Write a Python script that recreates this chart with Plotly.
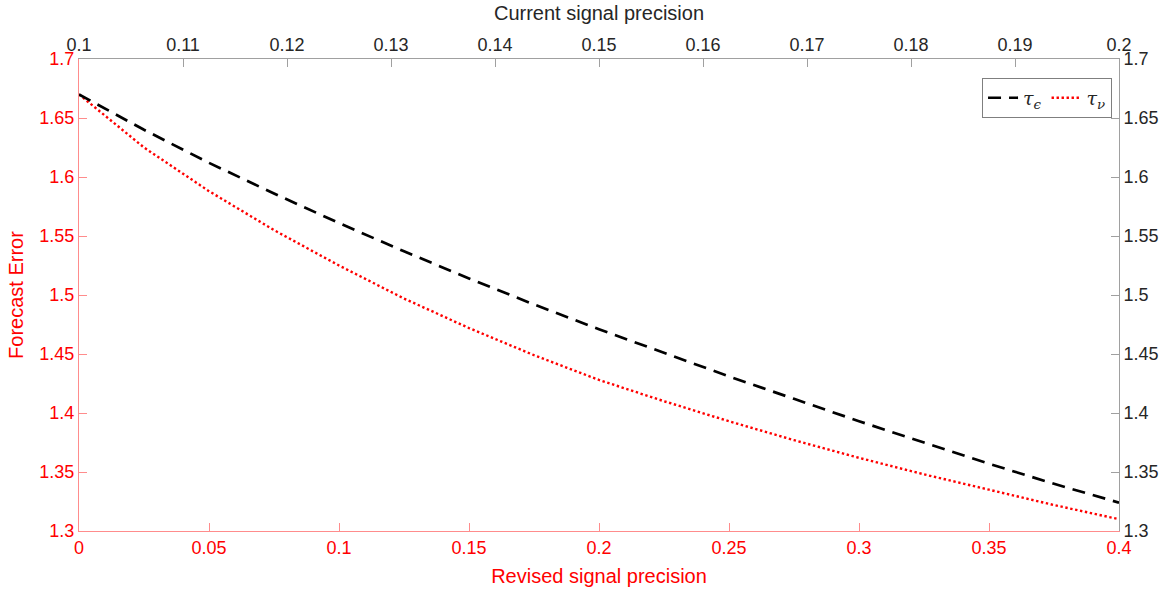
import plotly.graph_objects as go

# Revised signal precision (bottom axis) and forecast error for tau_nu
revised_precision = [0.0, 0.025, 0.05, 0.075, 0.1, 0.125, 0.15, 0.175, 0.2,
                     0.225, 0.25, 0.275, 0.3, 0.325, 0.35, 0.375, 0.4]
error_tau_nu = [1.670, 1.625, 1.588, 1.555, 1.525, 1.497, 1.472, 1.449, 1.428,
                1.410, 1.393, 1.377, 1.362, 1.348, 1.335, 1.322, 1.310]

# Current signal precision (top axis) and forecast error for tau_epsilon
current_precision = [0.1, 0.10625, 0.1125, 0.11875, 0.125, 0.13125, 0.1375, 0.14375, 0.15,
                     0.15625, 0.1625, 0.16875, 0.175, 0.18125, 0.1875, 0.19375, 0.2]
error_tau_eps = [1.670, 1.640, 1.612, 1.586, 1.561, 1.537, 1.514, 1.492, 1.471,
                 1.451, 1.431, 1.412, 1.393, 1.375, 1.357, 1.340, 1.324]

RED = "#ff0000"
DARK = "#262626"
AXIS_RED = "rgba(255,0,0,0.45)"
AXIS_GRAY = "#a0a0a0"
FONT = "Liberation Sans, Arial, sans-serif"

fig = go.Figure()

fig.add_trace(go.Scatter(
    x=current_precision, y=error_tau_eps, xaxis="x2", yaxis="y",
    mode="lines", name="<i>τ</i><sub><i>ϵ</i></sub>",
    line=dict(color="black", width=2.7, dash="13px,8px"),
))
fig.add_trace(go.Scatter(
    x=revised_precision, y=error_tau_nu, xaxis="x", yaxis="y",
    mode="lines", name="<i>τ</i><sub><i>ν</i></sub>",
    line=dict(color=RED, width=2.4, dash="2.4px,2.6px"),
))

tick_font_red = dict(family=FONT, size=18, color=RED)
tick_font_dark = dict(family=FONT, size=18, color=DARK)

fig.update_layout(
    width=1171, height=596,
    margin=dict(l=79, r=50, t=59, b=63),
    paper_bgcolor="white", plot_bgcolor="white",
    font=dict(family=FONT, size=18),
    xaxis=dict(
        range=[0, 0.4], dtick=0.05, tick0=0, side="bottom",
        ticks="inside", ticklen=8, tickcolor=AXIS_RED, tickwidth=1,
        showline=True, linecolor=AXIS_RED, linewidth=1, mirror=False,
        showgrid=False, zeroline=False, tickfont=tick_font_red,
        title=dict(text="Revised signal precision", font=dict(family=FONT, size=20, color=RED), standoff=12),
    ),
    xaxis2=dict(
        range=[0.1, 0.2], dtick=0.01, tick0=0.1, side="top", overlaying="x", anchor="y",
        ticks="inside", ticklen=8, tickcolor=AXIS_GRAY, tickwidth=1,
        showline=True, linecolor=AXIS_GRAY, linewidth=1,
        showgrid=False, zeroline=False, tickfont=tick_font_dark,
        title=dict(text="Current signal precision", font=dict(family=FONT, size=20, color=DARK), standoff=8),
    ),
    yaxis=dict(
        range=[1.3, 1.7], dtick=0.05, tick0=1.3, side="left",
        ticks="inside", ticklen=8, tickcolor=AXIS_RED, tickwidth=1,
        showline=True, linecolor=AXIS_RED, linewidth=1,
        showgrid=False, zeroline=False, tickfont=tick_font_red,
        title=dict(text="Forecast Error", font=dict(family=FONT, size=20, color=RED), standoff=10),
    ),
    yaxis2=dict(
        range=[1.3, 1.7], dtick=0.05, tick0=1.3, side="right", overlaying="y", anchor="x",
        ticks="inside", ticklen=8, tickcolor=AXIS_GRAY, tickwidth=1,
        showline=True, linecolor=AXIS_GRAY, linewidth=1,
        showgrid=False, zeroline=False, tickfont=tick_font_dark,
    ),
    legend=dict(
        orientation="h", x=0.9933, xanchor="right", y=0.96, yanchor="top",
        bgcolor="white", bordercolor="#7f7f7f", borderwidth=1,
        font=dict(family="DejaVu Serif, serif", size=19, color=DARK),
        itemwidth=30, tracegroupgap=0,
    ),
    showlegend=True,
)

# Invisible trace so the right-hand axis is drawn with its labels
fig.add_trace(go.Scatter(x=[None], y=[None], xaxis="x", yaxis="y2", showlegend=False, hoverinfo="skip"))

fig.write_html("out.html")
